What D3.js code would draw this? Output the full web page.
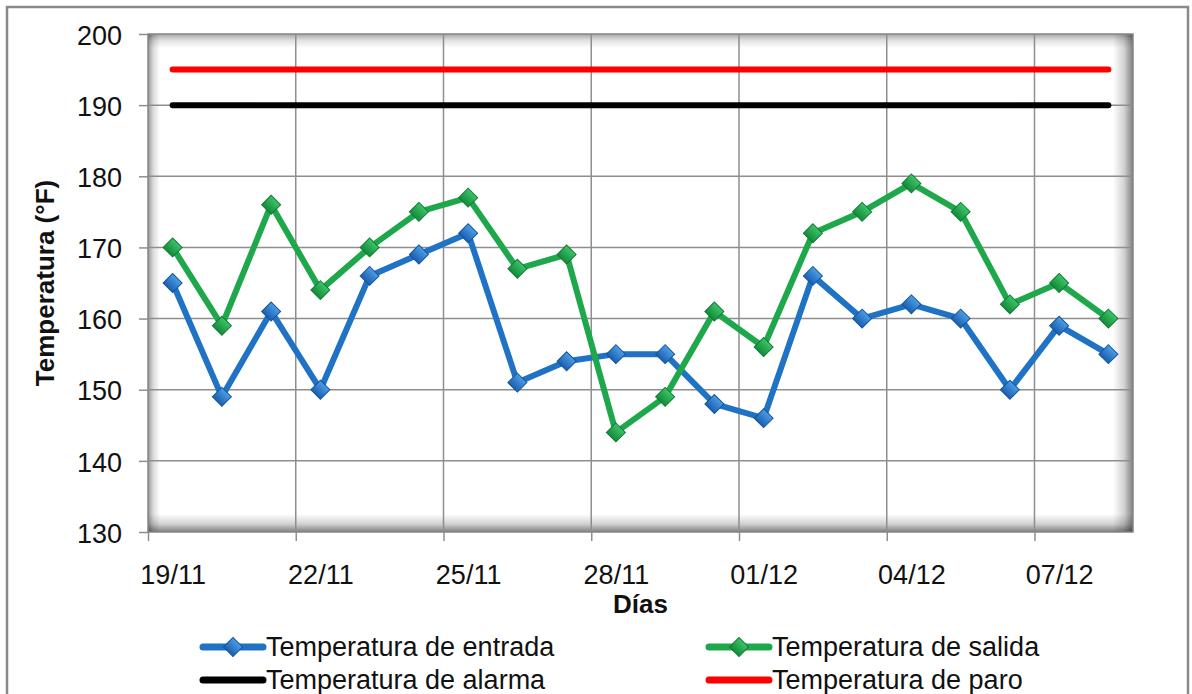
<!DOCTYPE html>
<meta charset="utf-8">
<style>
body { margin: 0; background: #fff; }
svg { font-family: "Liberation Sans", Arial, sans-serif; }
.grid line { stroke: #8e8e8e; stroke-width: 1.5; }
.axis text { font-size: 27px; fill: #111; }
.axis line { stroke: #8e8e8e; stroke-width: 1.5; }
.axis .domain { display: none; }
.title { font-size: 26px; font-weight: bold; fill: #111; }
.legend text { font-size: 27px; fill: #111; }
</style>
<body>
<script src="https://d3js.org/d3.v7.min.js"></script>
<script>

// daily readings, one per day
var days = ["19/11","20/11","21/11","22/11","23/11","24/11","25/11","26/11","27/11","28/11",
            "29/11","30/11","01/12","02/12","03/12","04/12","05/12","06/12","07/12","08/12"];
var tickLabels = ["19/11","22/11","25/11","28/11","01/12","04/12","07/12"];
var entrada = [165,149,161,150,166,169,172,151,154,155,155,148,146,166,160,162,160,150,159,155];
var salida  = [170,159,176,164,170,175,177,167,169,144,149,161,156,172,175,179,175,162,165,160];
var alarma = 190;
var paro = 195;
var yTicks = [130,140,150,160,170,180,190,200];

var width = 1192, height = 694;
var plot = {left: 148, top: 34, right: 1133, bottom: 532};

function parseDay(s) {
  var p = s.split("/");
  return new Date(Date.UTC(2009, +p[1] - 1, +p[0]));
}
function mid(s) { return d3.utcHour.offset(parseDay(s), 12); }

var x = d3.scaleUtc()
    .domain([parseDay(days[0]), d3.utcDay.offset(parseDay(days[days.length - 1]), 1)])
    .range([plot.left, plot.right]);

var y = d3.scaleLinear()
    .domain([130, 200])
    .range([plot.bottom, plot.top]);

var svg = d3.select("body").append("svg")
    .attr("width", width)
    .attr("height", height);

var defs = svg.append("defs");

// outer chart border
svg.append("rect")
    .attr("x", 7).attr("y", 7)
    .attr("width", 1181).attr("height", 720)
    .attr("fill", "#fff")
    .attr("stroke", "#8a8a8a")
    .attr("stroke-width", 2.5);

// plot area with inner shadow
svg.append("rect")
    .attr("x", plot.left).attr("y", plot.top)
    .attr("width", plot.right - plot.left).attr("height", plot.bottom - plot.top)
    .attr("fill", "#fff");

function shade(id, x1, y1, x2, y2, a) {
  var g = defs.append("linearGradient").attr("id", id)
      .attr("x1", x1).attr("y1", y1).attr("x2", x2).attr("y2", y2);
  g.append("stop").attr("offset", "0%").attr("stop-color", "#000").attr("stop-opacity", a);
  g.append("stop").attr("offset", "45%").attr("stop-color", "#000").attr("stop-opacity", a * 0.35);
  g.append("stop").attr("offset", "100%").attr("stop-color", "#000").attr("stop-opacity", 0);
}
shade("sh-top", 0, 0, 0, 1, 0.35);
shade("sh-left", 0, 0, 1, 0, 0.4);
shade("sh-right", 1, 0, 0, 0, 0.5);
shade("sh-bottom", 0, 1, 0, 0, 0.5);

var pw = plot.right - plot.left, ph = plot.bottom - plot.top;
svg.append("rect").attr("x", plot.left).attr("y", plot.top).attr("width", pw).attr("height", 14).attr("fill", "url(#sh-top)");
svg.append("rect").attr("x", plot.left).attr("y", plot.top).attr("width", 12).attr("height", ph).attr("fill", "url(#sh-left)");
svg.append("rect").attr("x", plot.right - 20).attr("y", plot.top).attr("width", 20).attr("height", ph).attr("fill", "url(#sh-right)");
svg.append("rect").attr("x", plot.left).attr("y", plot.bottom - 18).attr("width", pw).attr("height", 18).attr("fill", "url(#sh-bottom)");

// gridlines
var grid = svg.append("g").attr("class", "grid");
grid.selectAll(".h").data(yTicks.slice(1, -1)).enter().append("line")
    .attr("x1", plot.left).attr("x2", plot.right)
    .attr("y1", function(d) { return y(d); }).attr("y2", function(d) { return y(d); });
grid.selectAll(".v").data(tickLabels.slice(1)).enter().append("line")
    .attr("y1", plot.top).attr("y2", plot.bottom)
    .attr("x1", function(d) { return x(parseDay(d)); }).attr("x2", function(d) { return x(parseDay(d)); });

svg.append("rect")
    .attr("x", plot.left).attr("y", plot.top)
    .attr("width", pw).attr("height", ph)
    .attr("fill", "none")
    .attr("stroke", "#858585")
    .attr("stroke-width", 1.5);

// axes
svg.append("g")
    .attr("class", "axis")
    .attr("transform", "translate(" + plot.left + ",0)")
    .call(d3.axisLeft(y).tickValues(yTicks).tickSize(9).tickPadding(17))
    .selectAll("text").attr("dy", "0.38em");

var dayW = x(parseDay(days[1])) - x(parseDay(days[0]));
var xAxis = svg.append("g")
    .attr("class", "axis")
    .attr("transform", "translate(0," + plot.bottom + ")")
    .call(d3.axisBottom(x)
        .tickValues(tickLabels.map(parseDay))
        .tickFormat(function(d, i) { return tickLabels[i]; })
        .tickSize(9));
xAxis.selectAll("text")
    .attr("x", dayW / 2)
    .attr("y", 52)
    .attr("dy", 0);

svg.append("text")
    .attr("class", "title")
    .attr("text-anchor", "middle")
    .attr("x", (plot.left + plot.right) / 2)
    .attr("y", 613)
    .text("Días");

svg.append("text")
    .attr("class", "title")
    .attr("text-anchor", "middle")
    .attr("transform", "translate(54," + ((plot.top + plot.bottom) / 2) + ") rotate(-90)")
    .text("Temperatura (°F)");

// threshold lines
var x0 = x(mid(days[0])), x1 = x(mid(days[days.length - 1]));
[[alarma, "#000"], [paro, "#ff0000"]].forEach(function(t) {
  svg.append("line")
      .attr("x1", x0).attr("x2", x1)
      .attr("y1", y(t[0])).attr("y2", y(t[0]))
      .attr("stroke", t[1])
      .attr("stroke-width", 6)
      .attr("stroke-linecap", "round");
});

// marker gradients
function markerGrad(id, light, dark) {
  var g = defs.append("linearGradient").attr("id", id)
      .attr("x1", 0).attr("y1", 0).attr("x2", 0).attr("y2", 1);
  g.append("stop").attr("offset", "0%").attr("stop-color", light);
  g.append("stop").attr("offset", "100%").attr("stop-color", dark);
}
markerGrad("mk-blue", "#4c9de6", "#1a5fae");
markerGrad("mk-green", "#3cc468", "#138a3a");

var series = [
  {name: "Temperatura de entrada", values: entrada, color: "#1f72c4", marker: "url(#mk-blue)", edge: "#15559a"},
  {name: "Temperatura de salida", values: salida, color: "#1ea84b", marker: "url(#mk-green)", edge: "#127a35"}
];

var line = d3.line()
    .x(function(d, i) { return x(mid(days[i])); })
    .y(function(d) { return y(d); });

var diamond = d3.symbol().type(d3.symbolSquare).size(180);

series.forEach(function(s) {
  svg.append("path")
      .datum(s.values)
      .attr("fill", "none")
      .attr("stroke", s.color)
      .attr("stroke-width", 6)
      .attr("stroke-linejoin", "round")
      .attr("d", line);

  svg.append("g").selectAll("path")
      .data(s.values)
      .enter().append("path")
      .attr("d", diamond)
      .attr("transform", function(d, i) {
        return "translate(" + x(mid(days[i])) + "," + y(d) + ") rotate(45)";
      })
      .attr("fill", s.marker)
      .attr("stroke", s.edge)
      .attr("stroke-width", 1);
});

// legend
var legendItems = [
  {name: series[0].name, color: series[0].color, marker: series[0].marker, edge: series[0].edge, col: 0, row: 0},
  {name: series[1].name, color: series[1].color, marker: series[1].marker, edge: series[1].edge, col: 1, row: 0},
  {name: "Temperatura de alarma", color: "#000", col: 0, row: 1},
  {name: "Temperatura de paro", color: "#ff0000", col: 1, row: 1}
];
var colX = [203, 709], rowY = [647, 680];

var legend = svg.append("g").attr("class", "legend");
legendItems.forEach(function(it) {
  var lx = colX[it.col], ly = rowY[it.row];
  legend.append("line")
      .attr("x1", lx).attr("x2", lx + 60)
      .attr("y1", ly).attr("y2", ly)
      .attr("stroke", it.color)
      .attr("stroke-width", 7)
      .attr("stroke-linecap", "round");
  if (it.marker) {
    legend.append("path")
        .attr("d", diamond)
        .attr("transform", "translate(" + (lx + 30) + "," + ly + ") rotate(45)")
        .attr("fill", it.marker)
        .attr("stroke", it.edge);
  }
  legend.append("text")
      .attr("x", lx + 63)
      .attr("y", ly + 9)
      .text(it.name);
});

</script>
</body>
